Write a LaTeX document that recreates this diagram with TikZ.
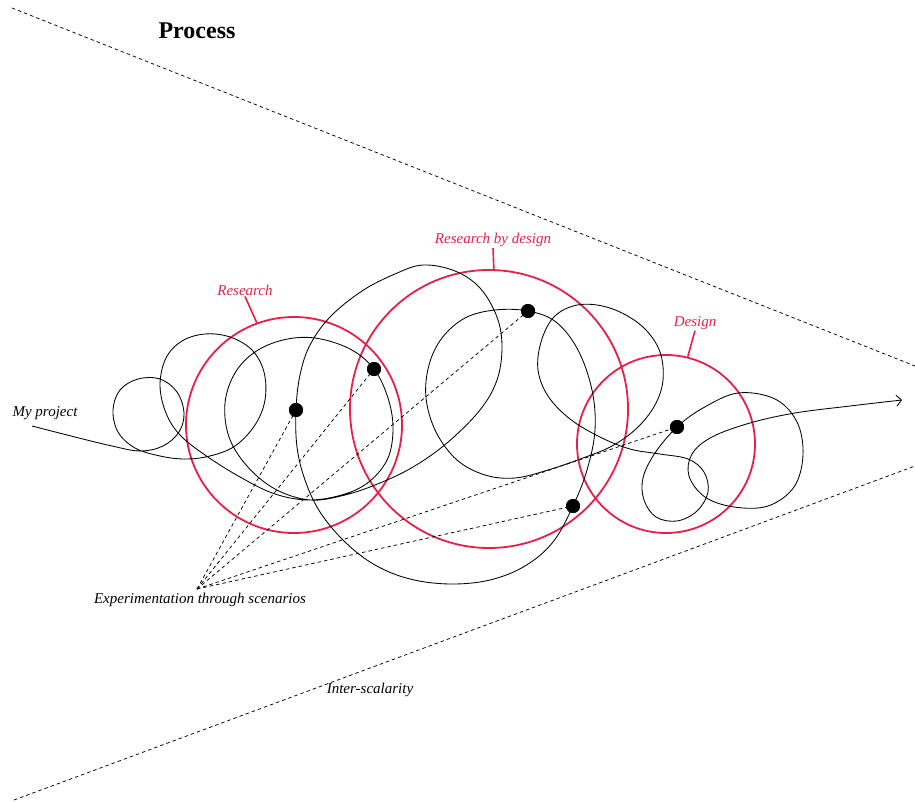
\documentclass[tikz,border=0pt]{standalone}
\usepackage{fontspec}
\setmainfont{Liberation Serif}
\usetikzlibrary{arrows.meta}
\definecolor{zonered}{RGB}{232,32,72}

\begin{document}
\begin{tikzpicture}[x=1pt, y=-1pt, >={Straight Barb[length=5pt,width=11pt]},
    every node/.style={font=\fontsize{15}{17}\selectfont\itshape, inner sep=1pt},
    track/.style={line width=0.85pt, line join=round},
    zone/.style={draw=zonered, line width=1.8pt, circle, inner sep=0pt},
    zonelabel/.style={text=zonered},
    zonetick/.style={zonered, line width=1.6pt},
    dot/.style={circle, fill=black, inner sep=0pt, minimum size=14pt},
    guide/.style={line width=0.75pt, dash pattern=on 3.5pt off 3pt}]

    \useasboundingbox (0,0) rectangle (915,802);

    % Title
    \node[font=\fontsize{24}{28}\selectfont\bfseries] (title) at (197,31) {Process};

    % Inter-scalarity bounds
    \draw[guide] (12,8) -- (915,366);
    \draw[guide] (14,800) -- (915,466);
    \node (inter) at (370,690) {Inter-scalarity};

    % Zones
    \node[zone, minimum size=216pt] (research) at (294,425) {};
    \node[zone, minimum size=278pt] (rbd) at (489,409) {};
    \node[zone, minimum size=178pt] (design) at (666,444) {};

    \node[zonelabel] (researchlbl) at (245,290) {Research};
    \node[zonelabel] (rbdlbl) at (493,240) {Research by design};
    \node[zonelabel] (designlbl) at (695,323) {Design};
    \draw[zonetick] (researchlbl.south) -- (research.110);
    \draw[zonetick] (rbdlbl.south) -- (rbd.88);
    \draw[zonetick] (designlbl.south) -- (design.76);

    % Project track
    \node (project) at (45,413) {My project};
    \draw[track, ->] plot[smooth, tension=0.6] coordinates {
        (32,426) (75,437) (112,446) (140,451) (163,446) (179,432) (184,413)
        (177,392) (160,379) (138,379) (120,390) (113,410) (118,432) (135,448)
        (160,456) (185,459) (210,456) (235,446) (255,425) (265,400) (264,372)
        (252,350) (230,337) (205,334) (182,341) (166,358) (160,385) (166,413)
        (180,435) (205,455) (240,477) (275,494) (310,500) (345,494) (370,481)
        (388,458) (393,428) (388,398) (374,369) (350,349) (315,338) (283,340)
        (255,352) (235,373) (225,403) (229,437) (247,466) (275,489) (310,500)
        (345,495) (380,483) (413,467) (447,443) (480,410) (497,380) (502,347)
        (497,317) (480,288) (455,271) (423,265) (395,274) (362,291) (330,317)
        (310,345) (300,375) (296,410) (297,447) (305,480) (320,512) (345,542)
        (375,565) (410,579) (450,584) (490,580) (525,566) (553,542) (573,506)
        (587,470) (595,430) (592,390) (578,350) (556,322) (528,311) (495,310)
        (465,318) (442,338) (429,365) (426,398) (436,432) (457,460) (485,475)
        (515,478) (548,470) (583,458) (612,446) (637,428) (655,405) (663,380)
        (660,352) (645,329) (622,313) (597,305) (573,306) (553,318) (541,342)
        (538,370) (548,396) (570,419) (600,437) (630,449) (660,454) (688,459)
        (704,472) (708,492) (697,511) (677,521) (656,517) (644,500) (643,478)
        (655,453) (677,427) (703,408) (738,393) (775,399) (797,422) (803,455)
        (794,487) (768,506) (734,507) (705,497) (689,476) (692,454) (712,437)
        (750,423) (795,413) (850,406) (902,400)};

    % Scenarios
    \coordinate (exp) at (197,589);
    \node (explbl) at (200,600) {Experimentation through scenarios};
    \node[dot] (s1) at (296,410) {};
    \node[dot] (s2) at (374,369) {};
    \node[dot] (s3) at (528,311) {};
    \node[dot] (s4) at (573,506) {};
    \node[dot] (s5) at (677,427) {};
    \foreach \s in {s1,s2,s3,s4,s5}
        \draw[guide] (exp) -- (\s.center);
    \foreach \s in {s1,s2,s3,s4,s5}
        \node[dot] at (\s) {};
\end{tikzpicture}
\end{document}
